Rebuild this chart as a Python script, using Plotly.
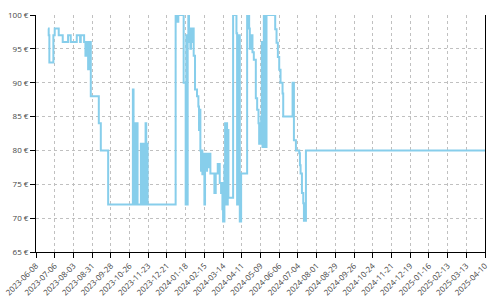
import plotly.graph_objects as go

dates = [
    "2023-06-26", "2023-06-27", "2023-06-28", "2023-07-04", "2023-07-06", "2023-07-12",
    "2023-07-18", "2023-07-26", "2023-07-30", "2023-08-08", "2023-08-13", "2023-08-14",
    "2023-08-19", "2023-08-21", "2023-08-22", "2023-08-25", "2023-08-26", "2023-08-29",
    "2023-09-10", "2023-09-13", "2023-09-24",
    "2023-10-31", "2023-11-01", "2023-11-02", "2023-11-03", "2023-11-04", "2023-11-05",
    "2023-11-06", "2023-11-07",
    "2023-11-12", "2023-11-13", "2023-11-14", "2023-11-15", "2023-11-16", "2023-11-17",
    "2023-11-18", "2023-11-19", "2023-11-20", "2023-11-21", "2023-11-22",
    "2024-01-03", "2024-01-04", "2024-01-05", "2024-01-06", "2024-01-07", "2024-01-15",
    "2024-01-18", "2024-01-19", "2024-01-20", "2024-01-21", "2024-01-22", "2024-01-23",
    "2024-01-24", "2024-01-25", "2024-01-26", "2024-01-27", "2024-01-28", "2024-01-30",
    "2024-02-01", "2024-02-04", "2024-02-06", "2024-02-07", "2024-02-08", "2024-02-09",
    "2024-02-10", "2024-02-11", "2024-02-12", "2024-02-13", "2024-02-14", "2024-02-15",
    "2024-02-16", "2024-02-18", "2024-02-19", "2024-02-21", "2024-02-22", "2024-02-24",
    "2024-03-01", "2024-03-03", "2024-03-06", "2024-03-09", "2024-03-11", "2024-03-12",
    "2024-03-13", "2024-03-14", "2024-03-16", "2024-03-17", "2024-03-18", "2024-03-19",
    "2024-03-20", "2024-03-21", "2024-03-22", "2024-03-29",
    "2024-04-03", "2024-04-04", "2024-04-05", "2024-04-06", "2024-04-07", "2024-04-08",
    "2024-04-10", "2024-04-19", "2024-04-22", "2024-04-23", "2024-04-24", "2024-04-25",
    "2024-04-26", "2024-04-27", "2024-04-29", "2024-05-02", "2024-05-04", "2024-05-06",
    "2024-05-07", "2024-05-08", "2024-05-09", "2024-05-10", "2024-05-11", "2024-05-12",
    "2024-05-14", "2024-05-15", "2024-05-16", "2024-05-17", "2024-05-18", "2024-05-31",
    "2024-06-02", "2024-06-04", "2024-06-06", "2024-06-08", "2024-06-11", "2024-06-12",
    "2024-06-26", "2024-06-28", "2024-07-01", "2024-07-06", "2024-07-07", "2024-07-08",
    "2024-07-10", "2024-07-12", "2024-07-13", "2024-07-16", "2025-04-10",
]
prices = [
    98, 97, 93, 97, 98, 97,
    96, 97, 96, 97, 96, 97,
    96, 94, 96, 92, 96, 88,
    84, 80, 72,
    89, 72, 84, 72, 84, 72,
    84, 72,
    81, 72, 81, 72, 81, 72,
    81, 84, 72, 81, 72,
    100, 99, 100, 99, 100, 90,
    72, 97, 72, 97, 100, 96,
    98, 95, 97, 96, 98, 94,
    89, 88, 86.5, 83, 86, 80,
    77, 80, 76.5, 79.5, 77, 72,
    79.5, 77, 79.5, 77.5, 79.5, 76.6,
    73.7, 76.6, 78, 75.2, 73.7, 75.2,
    71.3, 69.5, 77.8, 84, 72, 84,
    72, 83, 73, 100,
    97.3, 72, 97, 72, 97, 69.5,
    76.6, 100, 98, 95, 97, 95,
    97, 94.5, 93.4, 87.7, 86, 84,
    81, 84, 81, 85, 96, 80.5,
    100, 80.5, 100, 80.5, 100, 97.9,
    95.9, 93.8, 91.9, 90, 88.4, 85,
    90, 81.5, 80, 79.6, 77.8, 76.6,
    73.7, 72.2, 69.6, 80, 80,
]

y_ticks = [65, 70, 75, 80, 85, 90, 95, 100]
y_tick_labels = ["65 €", "70 €", "75 €", "80 €", "85 €", "90 €", "95 €", "100 €"]

fig = go.Figure(go.Scatter(
    x=dates, y=prices, mode="lines",
    line=dict(color="#87CEEB", width=2, shape="hv"),
    cliponaxis=False, hoverinfo="x+y",
))

font = dict(family="Open Sans, Liberation Sans, sans-serif", size=8, color="#444")

fig.update_layout(
    width=500, height=300,
    margin=dict(l=36, r=15, t=15, b=48),
    paper_bgcolor="white", plot_bgcolor="white",
    showlegend=False,
    font=font,
    xaxis=dict(
        type="date",
        range=["2023-06-08", "2025-04-10"],
        tick0="2023-06-08", dtick=28 * 86400000,
        tickformat="%Y-%m-%d", tickangle=-45,
        showline=True, linecolor="black", linewidth=1,
        ticks="outside", ticklen=5, tickcolor="black",
        showgrid=True, gridcolor="#c0c0c0", griddash="3px,3px", gridwidth=1,
        zeroline=False, automargin=False, tickfont=font,
    ),
    yaxis=dict(
        range=[65, 100],
        tickmode="array", tickvals=y_ticks, ticktext=y_tick_labels,
        showline=True, linecolor="black", linewidth=1, mirror=True,
        ticks="outside", ticklen=5, tickcolor="black",
        showgrid=True, gridcolor="#c0c0c0", griddash="3px,3px", gridwidth=1,
        zeroline=False, automargin=False, tickfont=font,
    ),
)

fig.write_html("out.html")
